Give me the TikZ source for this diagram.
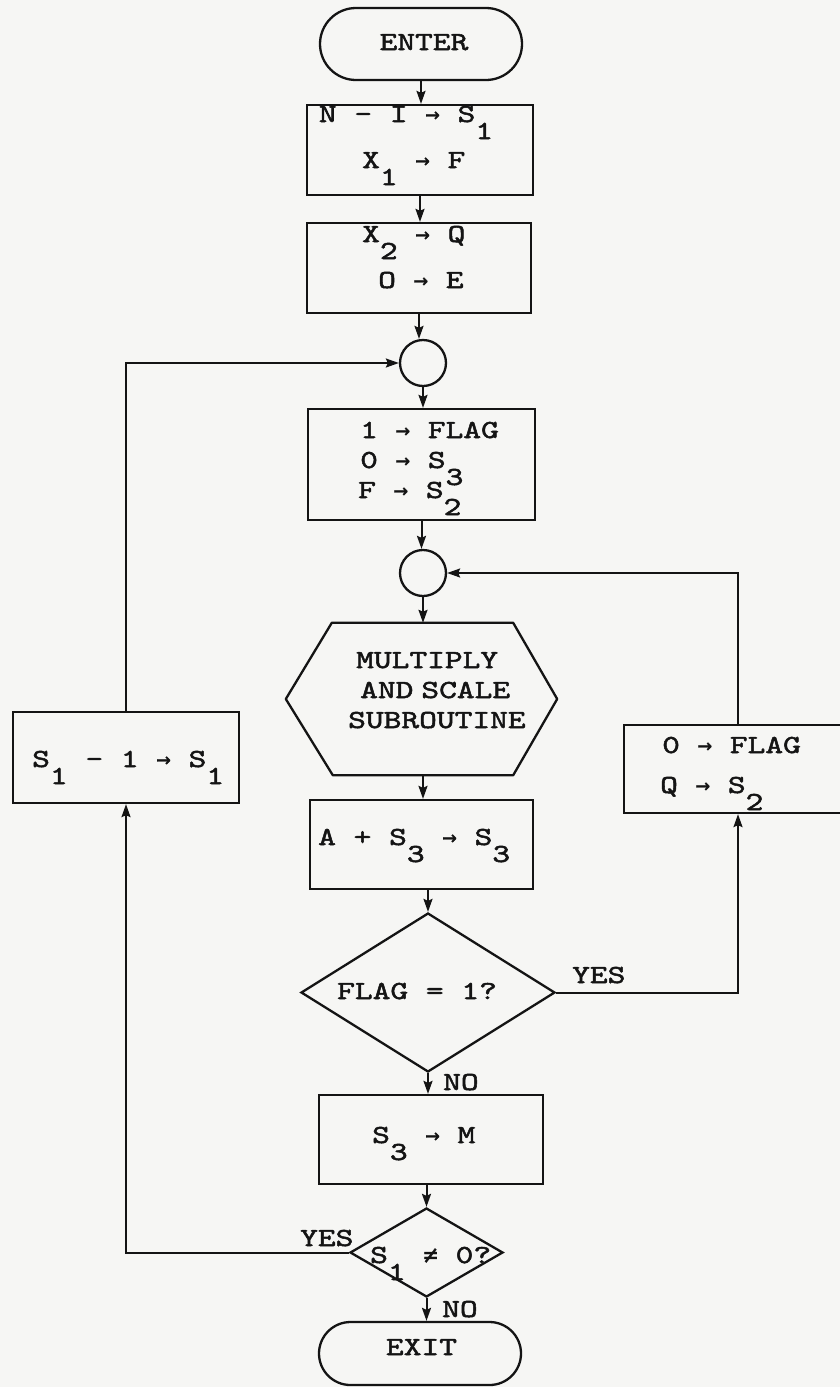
\documentclass[tikz,border=0pt]{standalone}
\usepackage{fontspec}
\newfontfamily\tw[FakeStretch=1.3,FakeBold=2]{lmmono10-regular.otf}
\newfontfamily\symf[FakeBold=1]{DejaVu Sans Mono}
\usetikzlibrary{arrows.meta,shapes.geometric,shapes.misc,calc}
\definecolor{paper}{RGB}{246,246,244}
\definecolor{ink}{RGB}{20,20,20}
\newcommand\sbs[1]{\raisebox{-17pt}{#1}}
\newcommand\arw{{\symf\fontsize{24}{30}\selectfont →}}
\newcommand\neqg{{\symf\fontsize{24}{30}\selectfont ≠}}
\begin{document}
\begin{tikzpicture}[x=1pt,y=-1pt,
  shp/.style={draw=ink,line width=2.3pt,inner sep=0pt},
  boxs/.style={shp,rectangle},
  term/.style={shp,rounded rectangle},
  conn/.style={shp,circle,minimum size=46pt},
  dec/.style={shp,diamond},
  txt/.style={font=\tw\fontsize{26}{32}\selectfont,text=ink,inner sep=0pt,anchor=base west},
  txtc/.style={txt,anchor=base},
  arr/.style={draw=ink,line width=2pt,-{Stealth[length=13pt,width=9pt,inset=2pt]}},
  ln/.style={draw=ink,line width=2.3pt}]
\fill[paper] (0,0) rectangle (840,1387);
\useasboundingbox (0,0) rectangle (840,1387);

% shapes
\node[term,minimum width=202pt,minimum height=72pt] (enter) at (421,44) {};
\node[boxs,minimum width=226pt,minimum height=90pt] (box1) at (420,150) {};
\node[boxs,minimum width=224pt,minimum height=90pt] (box2) at (419,268) {};
\node[conn] (c1) at (423,363) {};
\node[boxs,minimum width=227pt,minimum height=111pt] (box3) at (421.5,464.5) {};
\node[conn] (c2) at (423,573) {};
\node[rectangle,inner sep=0pt,minimum width=271pt,minimum height=152pt] (hex) at (421.5,699) {};
\draw[ln,line join=round] (hex.west) -- ($(hex.north west)+(46,0)$) -- ($(hex.north east)+(-44,0)$)
  -- (hex.east) -- ($(hex.south east)+(-44,0)$) -- ($(hex.south west)+(47,0)$) -- cycle;
\node[boxs,minimum width=223pt,minimum height=89pt] (abox) at (421.5,844.5) {};
\node[dec,minimum width=254pt,minimum height=159pt,aspect=1.6] (d1) at (428,992.5) {};
\node[boxs,minimum width=224pt,minimum height=89pt] (mbox) at (431,1139.5) {};
\node[dec,minimum width=153pt,minimum height=89pt,aspect=1.72] (d2) at (426.5,1252.5) {};
\node[term,minimum width=202pt,minimum height=63pt] (exit) at (420,1353.5) {};
\node[boxs,minimum width=226pt,minimum height=91pt] (lbox) at (126,757.5) {};
\node[boxs,minimum width=236pt,minimum height=88pt] (rbox) at (742,769) {};
\coordinate (rl) at (738,0);

% texts
\node[txtc] (tenter) at (424,50) {ENTER};
\node[txtc] (t1a) at (406,122) {N - I \arw{} S\sbs{1}};
\node[txt] (t1b) at (362,168) {X\sbs{1} \arw{} F};
\node[txt] (t2a) at (362,242) {X\sbs{2} \arw{} Q};
\node[txt] (t2b) at (378,288) {O \arw{} E};
\node[txt] (t3a) at (360,438) {1 \arw{} FLAG};
\node[txt] (t3b) at (360,468) {0 \arw{} S\sbs{3}};
\node[txt] (t3c) at (358,498) {F \arw{} S\sbs{2}};
\node[txt] (th1) at (356,668) {MULTIPLY};
\node[txt] (th2) at (360,698) {AND\hspace{8pt}SCALE};
\node[txt] (th3) at (348,728) {SUBROUTINE};
\node[txt] (ta) at (318,845) {A + S\sbs{3} \arw{} S\sbs{3}};
\node[txt] (tr1) at (662,753) {0 \arw{} FLAG};
\node[txt] (tr2) at (660,793) {Q \arw{} S\sbs{2}};
\node[txt] (tl) at (32,767) {S\sbs{1} - 1 \arw{} S\sbs{1}};
\node[txt] (td1) at (337,999) {FLAG = 1?};
\node[txt] (tm) at (372,1143) {S\sbs{3} \arw{} M};
\node[txt] (td2) at (370,1263) {S\sbs{1} \neqg{} 0?};
\node[txtc] (texit) at (421.5,1355) {EXIT};
\node[txt] (yes1) at (572,983) {YES};
\node[txt] (no1) at (443,1090) {NO};
\node[txt] (yes2) at (300,1246) {YES};
\node[txt] (no2) at (442,1317) {NO};

% connectors
\draw[arr] (enter.south) -- (enter.south |- box1.north);
\draw[arr] (box1.south) -- (box1.south |- box2.north);
\draw[arr] (box2.south) -- (box2.south |- c1.north);
\draw[arr] (c1.south) -- (c1.south |- box3.north);
\draw[arr] (box3.south) -- (box3.south |- c2.north);
\draw[arr] (c2.south) -- (c2.south |- hex.north);
\draw[arr] (c2.south |- hex.south) -- (c2.south |- abox.north);
\draw[arr] (d1.north |- abox.south) -- (d1.north);
\draw[arr] (d1.south) -- (d1.south |- mbox.north);
\draw[arr] (d2.north |- mbox.south) -- (d2.north);
\draw[arr] (d2.south) -- (d2.south |- exit.north);
\draw[arr] (d2.west) -| (lbox.south);
\draw[arr] (lbox.north) |- (c1.west);
\draw[arr] (d1.east) -| (rl |- rbox.south);
\draw[arr] (rl |- rbox.north) |- (c2.east);
\end{tikzpicture}
\end{document}
